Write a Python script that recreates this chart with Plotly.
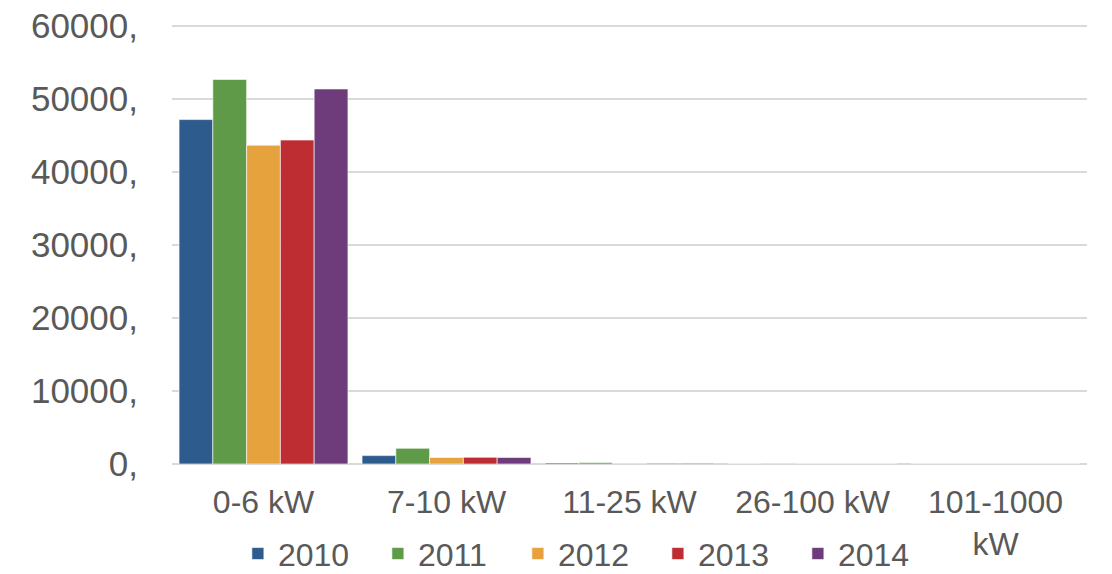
import plotly.graph_objects as go

categories = ["0-6 kW", "7-10 kW", "11-25 kW", "26-100 kW", "101-1000<br>kW"]
years = ["2010", "2011", "2012", "2013", "2014"]
values_2010 = [47200, 1150, 150, 15, 5]
values_2011 = [52700, 2150, 200, 20, 5]
values_2012 = [43700, 900, 100, 10, 5]
values_2013 = [44400, 920, 100, 10, 5]
values_2014 = [51400, 900, 100, 10, 5]
series = [values_2010, values_2011, values_2012, values_2013, values_2014]
colors = ["#2D5B8E", "#5E9A48", "#E6A23C", "#BE2D31", "#6E3C7B"]

y_ticks = [0, 10000, 20000, 30000, 40000, 50000, 60000]

font_family = "Liberation Sans, Arial, sans-serif"
grey = "#595959"

fig = go.Figure()
for yr, vals, col in zip(years, series, colors):
    fig.add_trace(go.Bar(
        x=categories, y=vals, name=yr,
        marker=dict(color=col, line=dict(color="rgba(255,255,255,0.6)", width=1)),
    ))

# page body has an 8px default margin, so the figure is sized to fit the window
fig.update_layout(
    width=1104, height=566,
    margin=dict(l=164, r=25, t=16, b=110, autoexpand=False),
    paper_bgcolor="white", plot_bgcolor="white",
    barmode="group", bargap=0.077, bargroupgap=0,
    font=dict(family=font_family, color=grey, size=32),
    showlegend=True,
    legend=dict(
        orientation="h", xanchor="left", x=0.072, yanchor="middle", y=-0.204,
        font=dict(size=32, color=grey), entrywidth=95, entrywidthmode="pixels",
        bgcolor="rgba(0,0,0,0)", itemclick=False, tracegroupgap=0,
    ),
)
fig.update_xaxes(
    automargin=False,
    showgrid=False, showline=False, zeroline=False,
    tickfont=dict(size=32, color=grey), ticks="", ticklabelstandoff=16,
)
fig.update_yaxes(
    automargin=False,
    range=[0, 60300], tickvals=y_ticks, ticktext=[f"{v}," for v in y_ticks],
    showgrid=True, gridcolor="#D9D9D9", gridwidth=2,
    zeroline=True, zerolinecolor="#D9D9D9", zerolinewidth=2,
    showline=False, ticks="", ticklabelstandoff=33, ticklabeloverflow="allow",
    tickfont=dict(size=35, color=grey),
)

fig.write_html("out.html")
